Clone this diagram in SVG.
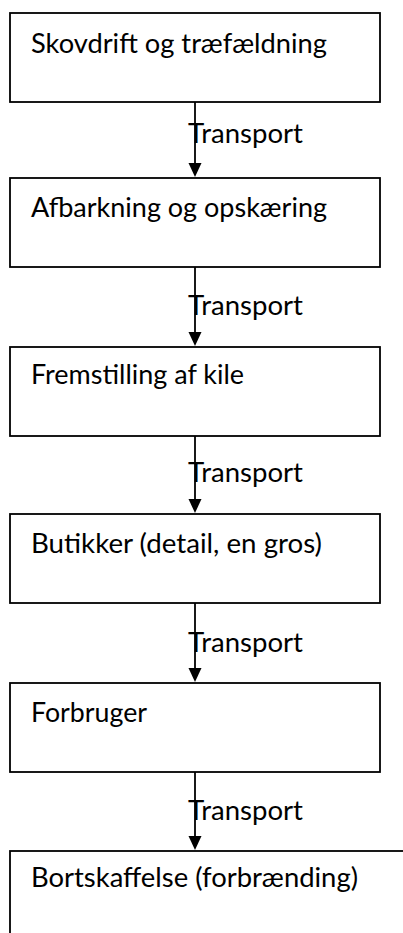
<svg xmlns="http://www.w3.org/2000/svg" width="403" height="933" viewBox="0 0 403 933">
<style>
.box{fill:#fff;stroke:#000;stroke-width:1.8}
.t{font-family:Lato,"Open Sans","Liberation Sans",sans-serif;font-size:27px;fill:#000}
.lbl{font-family:Lato,"Open Sans","Liberation Sans",sans-serif;font-size:27px;fill:#000}
.ln{stroke:#000;stroke-width:1.8;fill:none}
.ah{fill:#000}
</style>
<rect width="403" height="933" fill="#fff"/>
<g id="connectors">
<line class="ln" x1="195" y1="102" x2="195" y2="165"/>
<path class="ah" d="M188.5 163 L201.5 163 L195 177 Z"/>
<text class="lbl" x="188" y="143" textLength="115" lengthAdjust="spacingAndGlyphs">Transport</text>
<line class="ln" x1="195" y1="267" x2="195" y2="334"/>
<path class="ah" d="M188.5 332 L201.5 332 L195 346 Z"/>
<text class="lbl" x="188" y="315" textLength="115" lengthAdjust="spacingAndGlyphs">Transport</text>
<line class="ln" x1="195" y1="436" x2="195" y2="501"/>
<path class="ah" d="M188.5 499 L201.5 499 L195 513 Z"/>
<text class="lbl" x="188" y="482" textLength="115" lengthAdjust="spacingAndGlyphs">Transport</text>
<line class="ln" x1="195" y1="603" x2="195" y2="670"/>
<path class="ah" d="M188.5 668 L201.5 668 L195 682 Z"/>
<text class="lbl" x="188" y="652" textLength="115" lengthAdjust="spacingAndGlyphs">Transport</text>
<line class="ln" x1="195" y1="772" x2="195" y2="838"/>
<path class="ah" d="M188.5 836 L201.5 836 L195 850 Z"/>
<text class="lbl" x="188" y="820" textLength="115" lengthAdjust="spacingAndGlyphs">Transport</text>
</g>
<g id="n1"><rect class="box" x="10" y="13" width="370" height="89"/><text class="t" x="31" y="53" textLength="296" lengthAdjust="spacingAndGlyphs">Skovdrift og træfældning</text></g>
<g id="n2"><rect class="box" x="10" y="178" width="370" height="89"/><text class="t" x="31" y="217" textLength="296" lengthAdjust="spacingAndGlyphs">Afbarkning og opskæring</text></g>
<g id="n3"><rect class="box" x="10" y="347" width="370" height="89"/><text class="t" x="31" y="384" textLength="213" lengthAdjust="spacingAndGlyphs">Fremstilling af kile</text></g>
<g id="n4"><rect class="box" x="10" y="514" width="370" height="89"/><text class="t" x="31" y="553" textLength="291" lengthAdjust="spacingAndGlyphs">Butikker (detail, en gros)</text></g>
<g id="n5"><rect class="box" x="10" y="683" width="370" height="89"/><text class="t" x="31" y="722" textLength="116" lengthAdjust="spacingAndGlyphs">Forbruger</text></g>
<g id="n6"><rect class="box" x="10" y="851" width="400" height="110"/><text class="t" x="31" y="887" textLength="327" lengthAdjust="spacingAndGlyphs">Bortskaffelse (forbrænding)</text></g>
</svg>
